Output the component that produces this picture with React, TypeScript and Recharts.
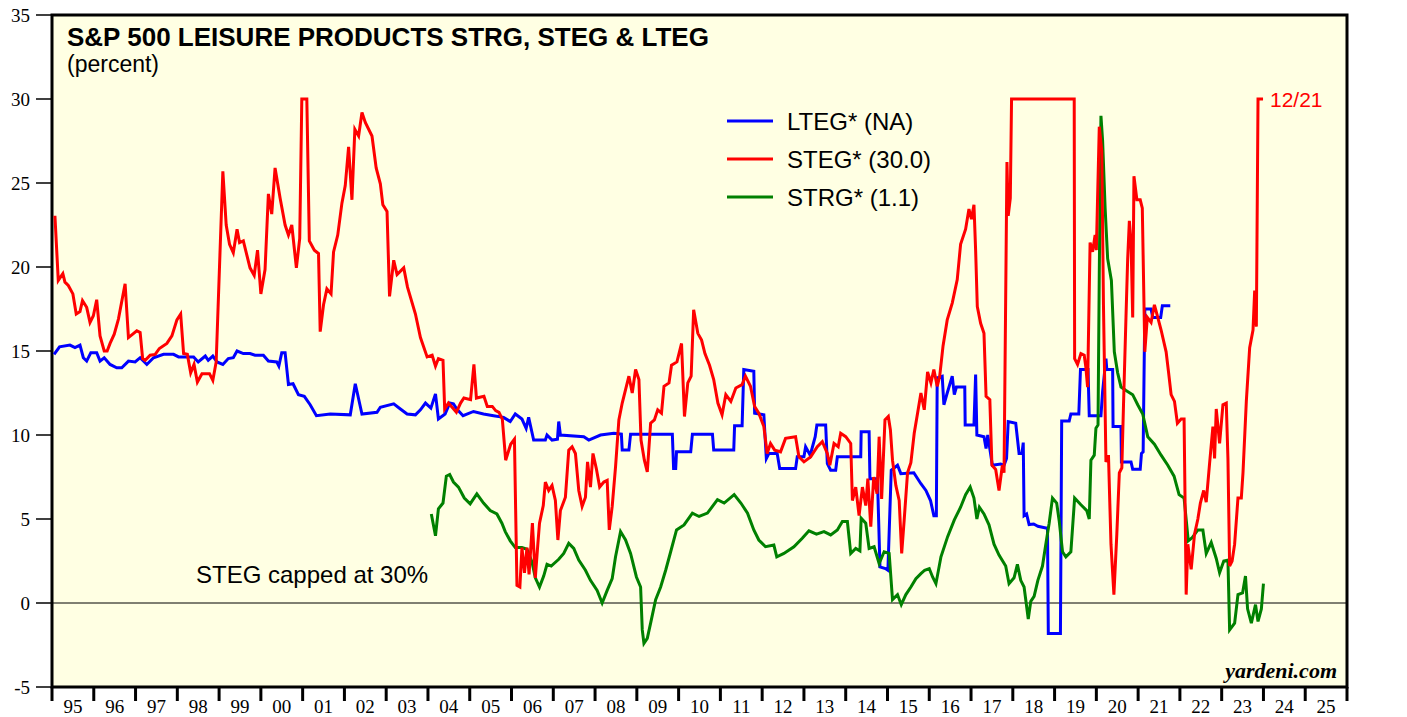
import React from 'react';
import {
  CartesianGrid,
  Line,
  LineChart,
  ReferenceArea,
  ReferenceLine,
  XAxis,
  YAxis,
} from 'recharts';

// S&P 500 Leisure Products: STRG, STEG & LTEG (percent), weekly-ish readings.
// Each series is a list of [year, value] pairs.

const YEAR_TICKS = Array.from({ length: 32 }, (_, i) => 1995 + i);
const VALUE_TICKS = [-5, 0, 5, 10, 15, 20, 25, 30, 35];

const LTEG: [number, number][] = [
  [1995.05, 14.8], [1995.18, 15.25], [1995.43, 15.35], [1995.55, 15.2], [1995.67, 15.35],
  [1995.75, 14.6], [1995.83, 14.4], [1995.93, 14.9], [1996.07, 14.9], [1996.15, 14.4],
  [1996.25, 14.6], [1996.39, 14.2], [1996.55, 14.0], [1996.67, 14.0], [1996.83, 14.4],
  [1996.99, 14.35], [1997.11, 14.6], [1997.27, 14.2], [1997.43, 14.6], [1997.67, 14.8],
  [1997.91, 14.8], [1998.03, 14.65], [1998.39, 14.65], [1998.5, 14.35], [1998.67, 14.7],
  [1998.74, 14.45], [1998.85, 14.7], [1998.95, 14.35], [1999.09, 14.2], [1999.22, 14.55],
  [1999.34, 14.6], [1999.43, 15.0], [1999.58, 14.85], [1999.74, 14.85], [1999.86, 14.75],
  [2000.06, 14.75], [2000.18, 14.4], [2000.38, 14.35], [2000.43, 14.1], [2000.5, 14.9],
  [2000.58, 14.9], [2000.66, 13.0], [2000.77, 13.05], [2000.9, 12.4], [2001.04, 12.3],
  [2001.18, 11.8], [2001.33, 11.15], [2001.66, 11.25], [2002.14, 11.2], [2002.26, 13.05],
  [2002.42, 11.25], [2002.78, 11.35], [2002.86, 11.65], [2003.18, 11.85], [2003.34, 11.55],
  [2003.5, 11.25], [2003.7, 11.2], [2003.82, 11.5], [2003.94, 11.9], [2004.07, 11.6],
  [2004.18, 12.45], [2004.25, 10.95], [2004.41, 11.25], [2004.52, 11.9], [2004.61, 11.85],
  [2004.69, 11.55], [2004.84, 11.15], [2005.09, 11.4], [2005.33, 11.25], [2005.57, 11.15],
  [2005.81, 11.05], [2005.97, 10.8], [2006.09, 11.25], [2006.25, 10.95], [2006.35, 10.4],
  [2006.41, 11.05], [2006.53, 9.7], [2006.81, 9.7], [2006.85, 10.0], [2006.97, 9.7],
  [2007.1, 9.75], [2007.13, 10.8], [2007.17, 10.0], [2007.73, 9.9], [2007.85, 9.7],
  [2008.13, 10.0], [2008.45, 10.1], [2008.63, 10.05], [2008.65, 9.1], [2008.81, 9.1],
  [2008.85, 10.05], [2009.85, 10.05], [2009.88, 8.0], [2009.93, 8.0], [2009.95, 9.0],
  [2010.29, 9.0], [2010.33, 10.05], [2010.81, 10.05], [2010.84, 9.1], [2011.32, 9.1],
  [2011.34, 10.55], [2011.52, 10.55], [2011.56, 13.9], [2011.8, 13.8], [2011.82, 11.3],
  [2012.04, 11.2], [2012.1, 8.6], [2012.16, 8.9], [2012.36, 8.9], [2012.42, 8.0],
  [2012.8, 8.0], [2012.84, 8.7], [2013.0, 8.7], [2013.04, 9.3], [2013.15, 8.8],
  [2013.27, 9.9], [2013.31, 10.6], [2013.52, 10.6], [2013.56, 8.3], [2013.64, 7.9],
  [2013.76, 7.9], [2013.8, 8.7], [2014.36, 8.7], [2014.37, 10.2], [2014.56, 10.2],
  [2014.58, 7.4], [2014.76, 7.4], [2014.82, 2.15], [2014.95, 2.05], [2015.01, 1.95],
  [2015.09, 7.9], [2015.24, 8.2], [2015.32, 7.7], [2015.63, 7.75], [2015.8, 7.1],
  [2015.92, 6.7], [2016.03, 6.1], [2016.11, 5.2], [2016.17, 5.2], [2016.19, 13.4],
  [2016.31, 13.5], [2016.35, 11.8], [2016.43, 12.5], [2016.55, 13.5], [2016.6, 12.4],
  [2016.65, 12.85], [2016.85, 12.85], [2016.86, 10.6], [2017.07, 10.6], [2017.11, 13.6],
  [2017.14, 10.0], [2017.31, 9.9], [2017.36, 9.2], [2017.4, 10.0], [2017.51, 8.2],
  [2017.71, 8.27], [2017.79, 8.2], [2017.85, 8.6], [2017.89, 10.8], [2018.07, 10.7],
  [2018.15, 8.9], [2018.22, 8.9], [2018.25, 9.55], [2018.27, 5.2], [2018.33, 5.3],
  [2018.39, 4.67], [2018.5, 4.7], [2018.6, 4.57], [2018.79, 4.46], [2018.83, 4.46],
  [2018.85, -1.82], [2019.14, -1.82], [2019.17, 10.83], [2019.35, 10.83], [2019.39, 11.25],
  [2019.58, 11.25], [2019.62, 13.9], [2019.8, 13.9], [2019.83, 11.15], [2020.11, 11.15],
  [2020.15, 12.6], [2020.23, 14.55], [2020.25, 13.9], [2020.39, 13.9], [2020.4, 10.5],
  [2020.59, 10.5], [2020.6, 8.4], [2020.83, 8.4], [2020.87, 7.96], [2021.05, 7.96],
  [2021.08, 8.9], [2021.12, 9.0], [2021.16, 17.5], [2021.31, 17.5], [2021.35, 17.0],
  [2021.54, 17.0], [2021.58, 17.7], [2021.77, 17.7],
];

const STEG: [number, number][] = [
  [1995.07, 23.05], [1995.15, 19.2], [1995.26, 19.6], [1995.31, 19.1], [1995.39, 18.9],
  [1995.5, 18.4], [1995.58, 17.2], [1995.67, 17.35], [1995.73, 18.0], [1995.83, 17.6],
  [1995.91, 16.7], [1995.99, 17.1], [1996.07, 18.05], [1996.15, 15.9], [1996.25, 15.0],
  [1996.32, 15.0], [1996.39, 15.45], [1996.49, 16.0], [1996.59, 16.9], [1996.75, 19.0],
  [1996.83, 15.8], [1997.03, 16.2], [1997.11, 16.1], [1997.17, 14.55], [1997.23, 14.45],
  [1997.35, 14.75], [1997.47, 14.8], [1997.57, 15.15], [1997.75, 15.45], [1997.87, 15.9],
  [1997.99, 16.85], [1998.08, 17.2], [1998.15, 14.85], [1998.24, 14.8], [1998.32, 13.7],
  [1998.4, 14.2], [1998.48, 13.15], [1998.59, 13.65], [1998.77, 13.65], [1998.85, 13.25],
  [1998.93, 14.35], [1999.09, 25.7], [1999.17, 22.5], [1999.25, 21.35], [1999.34, 20.85],
  [1999.43, 22.25], [1999.49, 21.45], [1999.58, 21.55], [1999.74, 19.95], [1999.84, 19.5],
  [1999.92, 21.0], [2000.0, 18.4], [2000.1, 19.85], [2000.18, 24.35], [2000.26, 23.15],
  [2000.34, 25.9], [2000.46, 24.1], [2000.58, 22.5], [2000.66, 21.9], [2000.74, 22.5],
  [2000.85, 19.95], [2000.93, 21.7], [2000.98, 30.0], [2001.1, 30.0], [2001.16, 21.55],
  [2001.28, 21.0], [2001.38, 20.8], [2001.42, 16.15], [2001.5, 17.75], [2001.58, 18.7],
  [2001.68, 18.4], [2001.74, 20.9], [2001.84, 21.9], [2001.94, 23.8], [2002.02, 24.85],
  [2002.1, 27.15], [2002.18, 24.0], [2002.25, 28.2], [2002.34, 27.8], [2002.42, 29.2],
  [2002.5, 28.6], [2002.66, 27.8], [2002.76, 25.9], [2002.86, 24.95], [2002.92, 23.7],
  [2003.02, 23.3], [2003.08, 18.25], [2003.18, 20.4], [2003.26, 19.55], [2003.42, 19.95],
  [2003.51, 18.8], [2003.7, 17.2], [2003.82, 15.8], [2003.98, 14.65], [2004.1, 14.75],
  [2004.18, 14.1], [2004.25, 14.55], [2004.36, 14.45], [2004.4, 11.55], [2004.49, 11.9],
  [2004.68, 11.35], [2004.78, 11.9], [2004.86, 12.2], [2005.02, 12.1], [2005.1, 14.2],
  [2005.16, 12.2], [2005.34, 12.3], [2005.42, 11.7], [2005.54, 11.7], [2005.62, 11.45],
  [2005.7, 11.35], [2005.78, 10.95], [2005.86, 8.5], [2005.98, 9.45], [2006.07, 9.75],
  [2006.13, 1.05], [2006.2, 0.95], [2006.25, 3.3], [2006.31, 1.8], [2006.37, 3.3],
  [2006.42, 1.7], [2006.5, 4.75], [2006.57, 1.5], [2006.63, 3.5], [2006.67, 4.75],
  [2006.76, 5.8], [2006.81, 7.2], [2006.89, 6.7], [2006.97, 7.0], [2007.05, 6.1],
  [2007.11, 3.75], [2007.17, 5.5], [2007.29, 6.3], [2007.37, 9.1], [2007.45, 9.3],
  [2007.53, 8.9], [2007.61, 6.7], [2007.69, 5.75], [2007.77, 6.3], [2007.82, 8.4],
  [2007.89, 6.9], [2007.95, 8.9], [2008.03, 8.0], [2008.11, 6.9], [2008.21, 7.2],
  [2008.29, 7.3], [2008.34, 4.35], [2008.41, 5.75], [2008.49, 8.1], [2008.57, 10.9],
  [2008.65, 11.9], [2008.73, 12.7], [2008.81, 13.5], [2008.89, 12.5], [2008.97, 13.9],
  [2009.05, 13.3], [2009.1, 9.7], [2009.18, 8.5], [2009.25, 7.8], [2009.33, 10.7],
  [2009.42, 10.9], [2009.5, 11.5], [2009.59, 11.3], [2009.65, 12.9], [2009.77, 13.1],
  [2009.83, 14.15], [2009.96, 14.35], [2010.07, 15.45], [2010.14, 11.1], [2010.22, 13.1],
  [2010.3, 13.5], [2010.36, 17.45], [2010.46, 16.05], [2010.55, 15.65], [2010.63, 14.85],
  [2010.74, 14.15], [2010.84, 13.3], [2010.94, 11.9], [2011.04, 11.2], [2011.13, 12.4],
  [2011.25, 12.0], [2011.37, 12.8], [2011.52, 13.0], [2011.6, 13.5], [2011.72, 12.9],
  [2011.82, 11.7], [2011.92, 11.3], [2012.04, 10.5], [2012.12, 8.9], [2012.2, 9.5],
  [2012.3, 9.1], [2012.44, 9.0], [2012.56, 9.8], [2012.8, 9.9], [2012.88, 8.7],
  [2013.0, 8.4], [2013.16, 8.7], [2013.32, 9.3], [2013.44, 9.6], [2013.56, 8.9],
  [2013.62, 8.2], [2013.72, 9.5], [2013.82, 9.3], [2013.88, 10.1], [2014.0, 9.9],
  [2014.12, 9.5], [2014.16, 6.1], [2014.24, 6.9], [2014.32, 5.2], [2014.4, 6.9],
  [2014.48, 5.8], [2014.53, 7.4], [2014.6, 4.55], [2014.67, 7.5], [2014.75, 6.5],
  [2014.8, 9.9], [2014.86, 6.2], [2014.94, 10.9], [2015.02, 11.1], [2015.07, 10.3],
  [2015.12, 8.5], [2015.2, 7.0], [2015.28, 6.1], [2015.34, 2.95], [2015.4, 4.95],
  [2015.48, 7.75], [2015.56, 8.35], [2015.64, 10.1], [2015.72, 11.3], [2015.8, 12.5],
  [2015.88, 11.5], [2015.96, 13.75], [2016.04, 13.1], [2016.11, 13.9], [2016.19, 12.9],
  [2016.25, 13.5], [2016.33, 15.3], [2016.43, 16.85], [2016.55, 17.85], [2016.67, 19.25],
  [2016.75, 21.35], [2016.87, 22.25], [2016.95, 23.45], [2017.01, 22.85], [2017.07, 23.7],
  [2017.11, 21.0], [2017.15, 17.65], [2017.23, 16.65], [2017.31, 16.05], [2017.36, 12.3],
  [2017.45, 12.1], [2017.5, 8.2], [2017.59, 7.95], [2017.67, 6.7], [2017.75, 8.2],
  [2017.79, 7.75], [2017.86, 26.25], [2017.89, 23.05], [2017.94, 24.1], [2017.97, 30.0],
  [2019.47, 30.0], [2019.48, 14.55], [2019.55, 14.2], [2019.63, 14.85], [2019.71, 14.75],
  [2019.75, 14.0], [2019.79, 12.85], [2019.85, 21.45], [2019.91, 20.9], [2019.97, 21.9],
  [2020.0, 21.0], [2020.07, 28.35], [2020.13, 26.9], [2020.17, 17.75], [2020.23, 8.4],
  [2020.29, 8.8], [2020.35, 3.5], [2020.42, 0.5], [2020.49, 4.1], [2020.55, 7.75],
  [2020.61, 8.05], [2020.65, 11.8], [2020.71, 17.1], [2020.75, 20.5], [2020.79, 22.75],
  [2020.83, 21.5], [2020.87, 17.0], [2020.9, 25.4], [2020.97, 24.0], [2021.05, 24.0],
  [2021.1, 23.5], [2021.16, 14.95], [2021.22, 17.0], [2021.31, 16.7], [2021.39, 17.75],
  [2021.47, 17.0], [2021.55, 16.25], [2021.67, 14.95], [2021.73, 13.7], [2021.79, 12.4],
  [2021.87, 12.0], [2021.94, 10.7], [2022.03, 10.95], [2022.1, 10.95], [2022.15, 0.5],
  [2022.19, 3.5], [2022.27, 2.0], [2022.35, 4.1], [2022.43, 5.0], [2022.49, 5.95],
  [2022.57, 6.7], [2022.63, 6.0], [2022.71, 8.3], [2022.79, 10.5], [2022.83, 8.6],
  [2022.87, 11.55], [2022.95, 9.5], [2023.03, 11.8], [2023.11, 11.9], [2023.15, 8.6],
  [2023.19, 2.2], [2023.25, 2.5], [2023.31, 3.5], [2023.39, 6.25], [2023.47, 6.25],
  [2023.51, 7.75], [2023.59, 12.0], [2023.67, 15.2], [2023.75, 16.25], [2023.79, 18.6],
  [2023.83, 16.45], [2023.87, 30.0], [2023.99, 30.0],
];

const STRG: [number, number][] = [
  [2004.08, 5.3], [2004.18, 4.0], [2004.25, 5.6], [2004.36, 5.95], [2004.44, 7.55],
  [2004.52, 7.65], [2004.61, 7.2], [2004.73, 6.9], [2004.87, 6.25], [2005.01, 5.9],
  [2005.17, 6.5], [2005.33, 5.95], [2005.49, 5.5], [2005.65, 5.3], [2005.77, 4.75],
  [2005.85, 4.25], [2005.97, 3.7], [2006.09, 3.3], [2006.25, 3.3], [2006.37, 3.2],
  [2006.49, 2.45], [2006.57, 1.5], [2006.67, 0.95], [2006.77, 1.6], [2006.85, 2.3],
  [2006.95, 2.2], [2007.13, 2.6], [2007.25, 2.95], [2007.37, 3.55], [2007.49, 3.25],
  [2007.61, 2.55], [2007.77, 1.95], [2007.89, 1.35], [2008.05, 0.75], [2008.17, 0.0],
  [2008.29, 0.75], [2008.41, 1.45], [2008.49, 2.75], [2008.61, 4.25], [2008.73, 3.75],
  [2008.85, 2.95], [2008.99, 1.55], [2009.09, 0.95], [2009.13, -1.6], [2009.17, -2.4],
  [2009.25, -2.1], [2009.33, -1.2], [2009.45, 0.2], [2009.57, 0.95], [2009.69, 1.95],
  [2009.81, 3.05], [2009.95, 4.35], [2010.13, 4.65], [2010.33, 5.35], [2010.49, 5.15],
  [2010.69, 5.35], [2010.93, 6.15], [2011.09, 5.95], [2011.33, 6.45], [2011.49, 5.95],
  [2011.65, 5.35], [2011.8, 4.35], [2011.92, 3.75], [2012.08, 3.35], [2012.28, 3.45],
  [2012.35, 2.75], [2012.52, 2.95], [2012.76, 3.35], [2012.96, 3.85], [2013.12, 4.3],
  [2013.3, 4.1], [2013.48, 4.25], [2013.64, 4.05], [2013.8, 4.35], [2013.92, 4.85],
  [2014.04, 4.85], [2014.12, 2.95], [2014.24, 3.25], [2014.34, 3.1], [2014.37, 5.05],
  [2014.48, 4.75], [2014.56, 3.25], [2014.68, 3.35], [2014.8, 2.35], [2014.92, 3.05],
  [2015.04, 2.95], [2015.12, 0.2], [2015.24, 0.5], [2015.33, -0.1], [2015.44, 0.5],
  [2015.56, 0.95], [2015.68, 1.45], [2015.8, 1.75], [2015.89, 1.95], [2016.0, 2.05],
  [2016.08, 1.55], [2016.16, 1.15], [2016.28, 2.75], [2016.44, 3.95], [2016.6, 4.95],
  [2016.75, 5.7], [2016.87, 6.45], [2016.98, 6.9], [2017.07, 6.25], [2017.14, 5.0],
  [2017.2, 5.7], [2017.31, 5.3], [2017.43, 4.65], [2017.55, 3.5], [2017.67, 2.85],
  [2017.83, 2.2], [2017.91, 1.15], [2018.03, 1.5], [2018.11, 2.3], [2018.19, 1.35],
  [2018.27, 0.95], [2018.37, -0.95], [2018.43, 0.1], [2018.51, 0.4], [2018.6, 1.35],
  [2018.71, 2.2], [2018.79, 3.5], [2018.87, 4.75], [2018.95, 6.25], [2019.05, 5.95],
  [2019.11, 4.9], [2019.19, 3.05], [2019.27, 2.75], [2019.39, 3.05], [2019.48, 6.25],
  [2019.63, 5.85], [2019.77, 5.5], [2019.83, 5.0], [2019.87, 8.5], [2019.95, 8.8],
  [2019.99, 10.4], [2020.04, 10.6], [2020.07, 19.65], [2020.11, 29.0], [2020.15, 27.5],
  [2020.21, 23.5], [2020.27, 20.5], [2020.36, 19.2], [2020.43, 14.95], [2020.51, 13.7],
  [2020.59, 12.85], [2020.71, 12.65], [2020.87, 12.4], [2020.99, 11.8], [2021.11, 11.25],
  [2021.23, 9.9], [2021.39, 9.45], [2021.55, 8.8], [2021.71, 8.2], [2021.86, 7.55],
  [2021.98, 6.45], [2022.1, 6.25], [2022.2, 3.7], [2022.3, 3.9], [2022.43, 4.35],
  [2022.55, 4.35], [2022.63, 2.95], [2022.75, 3.6], [2022.87, 2.65], [2022.95, 1.8],
  [2023.05, 2.5], [2023.15, 2.55], [2023.19, -1.6], [2023.31, -1.2], [2023.39, 0.5],
  [2023.5, 0.6], [2023.57, 1.6], [2023.62, -0.35], [2023.71, -1.2], [2023.81, -0.1],
  [2023.87, -1.1], [2023.95, -0.35], [2024.0, 1.15],
];

const LEGEND = [
  { label: 'LTEG* (NA)', color: '#0000ff' },
  { label: 'STEG* (30.0)', color: '#ff0000' },
  { label: 'STRG* (1.1)', color: '#008000' },
];

const SANS = '"Liberation Sans", Arial, sans-serif';
const SERIF = '"Liberation Serif", "Times New Roman", serif';
const W = 1407;
const H = 717;
const PLOT_LEFT = 52;
const PLOT_RIGHT = 1347;
const HALF_YEAR = (PLOT_RIGHT - PLOT_LEFT) / 31 / 2;

const toRows = (pairs: [number, number][]) => pairs.map(([t, v]) => ({ t, v }));

// year label sits between two year ticks
function YearTick(props: any) {
  const { x, y, payload } = props;
  if (payload.value >= 2026) return null;
  const label = String(payload.value).slice(2);
  return (
    <text
      x={x + HALF_YEAR}
      y={y}
      dy={10}
      textAnchor="middle"
      fill="#000"
      fontSize={19}
      fontFamily={SERIF}
    >
      {label}
    </text>
  );
}

export default function App() {
  const yTick = { fill: '#000', fontSize: 19, fontFamily: SERIF };
  return (
    <div style={{ position: 'absolute', left: 0, top: 0, width: W, height: H, background: '#fff' }}>
      <LineChart width={W} height={H} margin={{ top: 15, right: 0, bottom: 0, left: 0 }}>
        <CartesianGrid fill="#ffffe3" horizontal={false} vertical={false} />
        <XAxis
          type="number"
          dataKey="t"
          domain={[1995, 2026]}
          ticks={YEAR_TICKS}
          allowDataOverflow
          height={30}
          axisLine={false}
          tickSize={14}
          tickMargin={2}
          tickLine={{ stroke: '#000', strokeWidth: 3 }}
          tick={<YearTick />}
          interval={0}
        />
        <YAxis
          domain={[-5, 35]}
          ticks={VALUE_TICKS}
          width={PLOT_LEFT}
          axisLine={false}
          tickSize={16}
          tickMargin={6}
          tickLine={{ stroke: '#000', strokeWidth: 1.5 }}
          tick={yTick}
          interval={0}
        />
        <YAxis
          yAxisId="right"
          orientation="right"
          domain={[-5, 35]}
          ticks={VALUE_TICKS}
          width={W - PLOT_RIGHT}
          axisLine={false}
          tickSize={16}
          tickMargin={5}
          tickLine={{ stroke: '#000', strokeWidth: 1.5 }}
          tick={{ ...yTick, textAnchor: 'start' }}
          interval={0}
        />
        <ReferenceLine y={0} stroke="#000" strokeWidth={1} />
        <Line
          data={toRows(LTEG)}
          dataKey="v"
          type="linear"
          stroke="#0000ff"
          strokeWidth={3}
          dot={false}
          isAnimationActive={false}
        />
        <Line
          data={toRows(STRG)}
          dataKey="v"
          type="linear"
          stroke="#008000"
          strokeWidth={3}
          dot={false}
          isAnimationActive={false}
        />
        <Line
          data={toRows(STEG)}
          dataKey="v"
          type="linear"
          stroke="#ff0000"
          strokeWidth={3}
          dot={false}
          isAnimationActive={false}
        />
        <ReferenceArea
          x1={1995}
          x2={2026}
          y1={-5}
          y2={35}
          fill="none"
          stroke="#000"
          strokeWidth={3}
        />
      </LineChart>

      <svg
        width={W}
        height={H}
        style={{ position: 'absolute', left: 0, top: 0, pointerEvents: 'none' }}
      >
        <text x={67} y={46} fontFamily={SANS} fontWeight="bold" fontSize={26} fill="#000">
          S&amp;P 500 LEISURE PRODUCTS STRG, STEG &amp; LTEG
        </text>
        <text x={67} y={72} fontFamily={SANS} fontSize={23} fill="#000">
          (percent)
        </text>
        {LEGEND.map((item, i) => (
          <g key={item.label}>
            <line
              x1={727}
              x2={773}
              y1={121 + i * 38}
              y2={121 + i * 38}
              stroke={item.color}
              strokeWidth={3}
            />
            <text x={787} y={130 + i * 38} fontFamily={SANS} fontSize={24} fill="#000">
              {item.label}
            </text>
          </g>
        ))}
        <text x={1270} y={107} fontFamily={SANS} fontSize={21} fill="#ff0000">
          12/21
        </text>
        <text x={196} y={583} fontFamily={SANS} fontSize={24} fill="#000">
          STEG capped at 30%
        </text>
        <text
          x={1337}
          y={678}
          textAnchor="end"
          fontFamily={SERIF}
          fontWeight="bold"
          fontStyle="italic"
          fontSize={22}
          fill="#000"
        >
          yardeni.com
        </text>
      </svg>
    </div>
  );
}
